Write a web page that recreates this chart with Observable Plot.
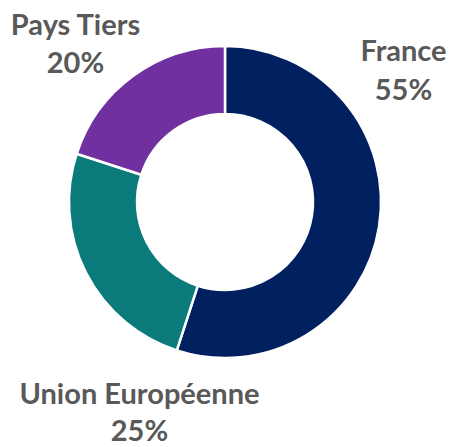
<!DOCTYPE html>
<html><head><meta charset="utf-8">
<script src="https://cdn.jsdelivr.net/npm/d3@7"></script>
<script src="https://cdn.jsdelivr.net/npm/@observablehq/plot@0.6"></script>
<style>html,body{margin:0;padding:0;background:#fff}</style>
</head><body><div id="chart"></div>
<script>
const categories = ["France", "Union Européenne", "Pays Tiers"];
const values = [55, 25, 20];
const valueLabels = ["55%", "25%", "20%"];
const colors = ["#002060", "#0A7B7A", "#7030A0"];

const W = 451, H = 447;
const cx = 225, cy = 202, outerR = 156, innerR = 88;
// label anchor positions (layout): x centre, y middle of first line, gap to second line
const labelPos = [[403, 51.5, 38.5], [139, 394, 37], [75, 25, 38.5]];

const data = categories.map((c, i) => ({cat: c, value: values[i], label: valueLabels[i], color: colors[i], lx: labelPos[i][0], ly: labelPos[i][1], gap: labelPos[i][2]}));
const arcs = d3.pie().sort(null).value(d => d.value)(data);
const arcGen = d3.arc().innerRadius(innerR).outerRadius(outerR);

function donut(index, scales, values, dims) {
  const g = d3.create("svg:g");
  g.selectAll("path").data(arcs).join("path")
    .attr("transform", `translate(${scales.x(cx)},${scales.y(cy)})`)
    .attr("d", arcGen)
    .attr("fill", d => scales.color(d.data.cat))
    .attr("stroke", "#fff")
    .attr("stroke-width", 2.5)
    .attr("stroke-linejoin", "round");
  return g.node();
}

const chart = Plot.plot({
  width: W, height: H, margin: 0,
  x: {domain: [0, W], range: [0, W], axis: null},
  y: {domain: [0, H], range: [0, H], axis: null},
  color: {domain: categories, range: colors},
  style: {fontFamily: "Lato, sans-serif", background: "#fff"},
  marks: [
    donut,
    Plot.text(data, {x: "lx", y: "ly", text: "cat", fill: "#595959", fontSize: 29, fontWeight: 700, textAnchor: "middle", lineAnchor: "middle"}),
    Plot.text(data, {x: "lx", y: d => d.ly + d.gap, text: "label", fill: "#595959", fontSize: 29, fontWeight: 700, textAnchor: "middle", lineAnchor: "middle"})
  ]
});
document.getElementById("chart").appendChild(chart);
</script></body></html>
